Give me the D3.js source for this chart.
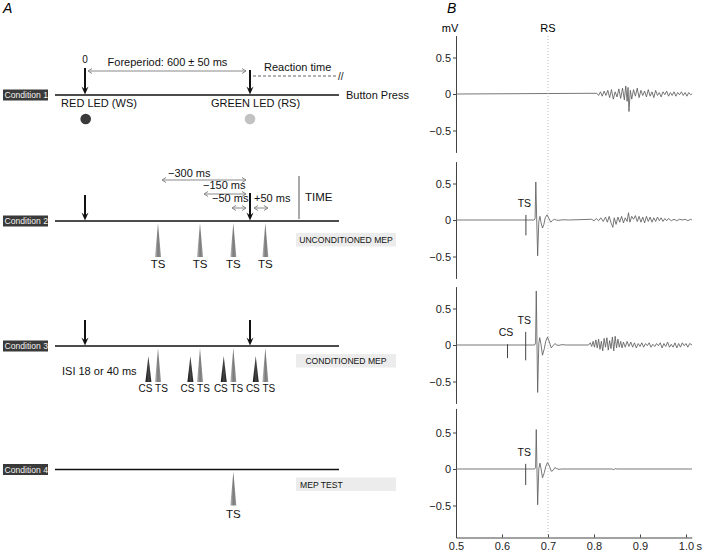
<!DOCTYPE html>
<html>
<head>
<meta charset="utf-8">
<script src="https://cdn.jsdelivr.net/npm/d3@7"></script>
<style>
body { margin: 0; background: #fff; }
svg { font-family: "Liberation Sans", Arial, sans-serif; }
</style>
</head>
<body>
<svg id="fig" width="703" height="553"></svg>
<script>
// ---- panel A : protocol (times in ms from the warning signal) ----
var conditions = ["Condition 1", "Condition 2", "Condition 3", "Condition 4"];
var mepLabels = [null, "UNCONDITIONED MEP", "CONDITIONED MEP", "MEP TEST"];
var wsTime = 0, rsTime = 600;
var tsTimes = [300, 450, 550, 650];              // RS -300, -150, -50, +50
var tsOffsets = [-300, -150, -50, 50];
var offsetLabels = ["\u2212300 ms", "\u2212150 ms", "\u221250 ms", "+50 ms"];
var isi = 40;                                    // CS precedes TS (18 or 40 ms)
var testTime = 550;

// ---- panel B : EMG traces (s, mV) ----
var secTicks = [0.5, 0.6, 0.7, 0.8, 0.9, 1.0];
var mvTicks = [-0.5, 0, 0.5];
var rsSec = 0.7;

var trace1 = [[0.5,0],[0.806,0.01],[0.810,-0.02],[0.814,0.03],[0.818,-0.03],[0.822,0.04],[0.826,-0.02],
  [0.830,0.05],[0.834,-0.05],[0.838,0.06],[0.842,-0.07],[0.846,0.03],[0.850,-0.04],[0.854,0.07],[0.858,-0.06],
  [0.862,0.08],[0.866,-0.08],[0.869,0.11],[0.872,-0.1],[0.874,0.09],[0.876,-0.24],[0.879,0.05],[0.882,-0.07],
  [0.886,0.06],[0.890,-0.03],[0.894,0.08],[0.898,-0.05],[0.902,0.05],[0.906,-0.02],[0.910,0.04],[0.914,-0.04],
  [0.918,0.06],[0.922,-0.03],[0.926,0.03],[0.930,-0.05],[0.934,0.05],[0.938,-0.02],[0.942,0.02],[0.946,-0.04],
  [0.950,0.03],[0.954,-0.01],[0.958,0.04],[0.962,-0.03],[0.966,0.02],[0.970,-0.02],[0.974,0.03],[0.978,-0.03],
  [0.982,0.02],[0.986,-0.01],[0.990,0.03],[0.994,-0.02],[0.998,0.02],[1.002,-0.03],[1.006,0.02],[1.010,-0.01],[1.013,0]];

var trace2 = [[0.5,0],[0.670,0],[0.672,0.02],[0.6735,0.52],[0.6755,0.0],[0.6775,-0.49],[0.680,-0.02],[0.6825,0.05],
  [0.685,-0.04],[0.688,-0.11],[0.691,-0.06],[0.694,0.03],[0.698,0.07],[0.702,0.02],[0.706,-0.03],[0.710,-0.005],
  [0.714,0.01],[0.718,0],[0.722,-0.005],[0.728,0],[0.735,0.003],[0.745,0],[0.795,0.01],[0.800,-0.01],[0.805,0.02],
  [0.810,-0.01],[0.815,0.03],[0.820,-0.02],[0.825,0.04],[0.829,-0.03],[0.833,0.05],[0.837,-0.04],[0.841,-0.1],
  [0.844,0.03],[0.848,-0.06],[0.852,0.04],[0.856,-0.03],[0.860,0.05],[0.864,-0.04],[0.868,0.03],[0.872,-0.02],
  [0.875,0.1],[0.878,-0.03],[0.882,0.05],[0.886,0.01],[0.890,0.06],[0.894,-0.02],[0.898,0.05],[0.902,-0.03],
  [0.906,0.04],[0.910,-0.04],[0.914,0.05],[0.918,-0.02],[0.922,0.04],[0.926,-0.03],[0.930,0.03],[0.934,-0.02],
  [0.938,0.04],[0.942,-0.01],[0.946,0.03],[0.950,-0.02],[0.954,0.02],[0.958,-0.01],[0.962,0.02],[0.968,-0.01],
  [0.974,0.01],[0.980,-0.01],[0.986,0.01],[0.992,0],[0.998,0.01],[1.004,-0.01],[1.010,0.01],[1.013,0]];

var trace3 = [[0.5,0],[0.671,0],[0.673,0.03],[0.6745,0.74],[0.676,0.05],[0.6775,-0.65],[0.680,0.02],[0.682,0.1],
  [0.685,0],[0.688,-0.14],[0.692,-0.05],[0.695,0.05],[0.699,0.11],[0.703,0.04],[0.707,-0.04],[0.711,-0.01],
  [0.715,0.02],[0.719,0],[0.724,-0.005],[0.730,0.005],[0.740,0],[0.788,0],[0.792,0.03],[0.795,-0.02],[0.798,0.05],
  [0.801,-0.03],[0.804,0.07],[0.807,-0.04],[0.810,0.08],[0.813,-0.06],[0.816,0.05],[0.819,-0.08],[0.822,0.09],
  [0.825,-0.03],[0.828,0.1],[0.831,-0.07],[0.834,0.06],[0.837,-0.05],[0.840,0.11],[0.843,-0.08],[0.846,0.12],
  [0.849,-0.04],[0.852,0.08],[0.855,-0.03],[0.858,0.05],[0.861,-0.04],[0.864,0.04],[0.868,-0.03],[0.872,0.05],
  [0.876,-0.02],[0.880,0.04],[0.884,-0.03],[0.888,0.03],[0.892,-0.04],[0.896,0.02],[0.900,-0.02],[0.904,0.03],
  [0.908,-0.03],[0.912,0.02],[0.916,-0.01],[0.920,0.03],[0.924,-0.03],[0.928,0.01],[0.932,-0.02],[0.936,0.02],
  [0.940,-0.01],[0.944,0.03],[0.948,-0.04],[0.952,0.02],[0.956,-0.02],[0.960,0.04],[0.964,-0.03],[0.968,0.01],
  [0.972,-0.03],[0.976,0.03],[0.980,-0.04],[0.984,0.02],[0.988,-0.03],[0.992,0.03],[0.996,-0.01],[1.000,0.02],
  [1.004,-0.03],[1.008,0.02],[1.013,0]];

var trace4 = [[0.5,0],[0.671,0],[0.673,0.02],[0.6745,0.54],[0.676,0],[0.6775,-0.49],[0.680,0],[0.6825,0.08],
  [0.685,0],[0.688,-0.12],[0.692,-0.05],[0.695,0.03],[0.699,0.09],[0.703,0.04],[0.707,-0.03],[0.711,-0.02],
  [0.715,0.02],[0.719,0.005],[0.724,-0.005],[0.730,0],[0.840,0],[0.843,-0.01],[0.846,0.005],[0.850,0],[1.013,0]];

var traces = [trace1, trace2, trace3, trace4];
var stimMarks = [
  [],
  [{name: "TS", t: 0.652, top: 0.07, bottom: -0.21}],
  [{name: "CS", t: 0.612, top: 0.01, bottom: -0.18}, {name: "TS", t: 0.6515, top: 0.18, bottom: -0.21}],
  [{name: "TS", t: 0.6515, top: 0.07, bottom: -0.22}]
];
var panelExtents = [[-0.8, 0.8], [-0.8, 0.8], [-0.8, 0.8], [-0.94, 0.83]];

var svg = d3.select("#fig");
var defs = svg.append("defs");

function grad(id, stops) {
  var g = defs.append("linearGradient").attr("id", id).attr("x1", 0).attr("x2", 1).attr("y1", 0).attr("y2", 0);
  stops.forEach(function(c, i) {
    g.append("stop").attr("offset", i / (stops.length - 1)).attr("stop-color", c);
  });
}
grad("tsGrad", ["#bdbdbd", "#7a7a7a", "#9a9a9a"]);
grad("csGrad", ["#111", "#444", "#222"]);

// panel letters
svg.append("text").attr("x", 3).attr("y", 13).attr("font-size", 14).attr("font-style", "italic").text("A");
svg.append("text").attr("x", 447).attr("y", 13).attr("font-size", 14).attr("font-style", "italic").text("B");

// ================= panel A =================
// schematic time axis: not to scale before the first stimulus
var xA = d3.scaleLinear().domain([-125, 0, 300, 450, 600, 890]).range([55, 85, 158, 200, 250, 339]);
var yA = d3.scaleOrdinal().domain(conditions).range([95, 221, 346, 469.5]);
var gapLen = d3.scaleLinear().domain([0, 300]).range([0, 84]);
var isiLen = d3.scaleLinear().domain([0, 40]).range([0, 9.6]);

var gA = svg.append("g");

function downArrow(x, y0, y1) {
  gA.append("line").attr("x1", x).attr("x2", x).attr("y1", y0).attr("y2", y1 - 4)
    .attr("stroke", "#111").attr("stroke-width", 2);
  gA.append("path").attr("d", "M" + (x - 3.5) + "," + (y1 - 8) + "L" + x + "," + y1 + "L" + (x + 3.5) + "," + (y1 - 8) + "L" + x + "," + (y1 - 5) + "Z")
    .attr("fill", "#111");
}
function dblArrow(x0, x1, y) {
  gA.append("line").attr("x1", x0).attr("x2", x1).attr("y1", y).attr("y2", y)
    .attr("stroke", "#888").attr("stroke-width", 1);
  gA.append("path")
    .attr("d", "M" + (x0 + 4) + "," + (y - 2.5) + "L" + x0 + "," + y + "L" + (x0 + 4) + "," + (y + 2.5) +
               "M" + (x1 - 4) + "," + (y - 2.5) + "L" + x1 + "," + y + "L" + (x1 - 4) + "," + (y + 2.5))
    .attr("fill", "none").attr("stroke", "#888").attr("stroke-width", 1);
}
function triangle(x, yTip, yBase, fill) {
  gA.append("path").attr("d", "M" + x + "," + yTip + "L" + (x + 3) + "," + yBase + "L" + (x - 3) + "," + yBase + "Z")
    .attr("fill", fill);
}
function txt(x, y, s, size, anchor) {
  return gA.append("text").attr("x", x).attr("y", y).attr("font-size", size)
    .attr("text-anchor", anchor || "start").attr("fill", "#111").text(s);
}

conditions.forEach(function(c, i) {
  var y = yA(c);
  gA.append("rect").attr("x", 3).attr("y", y - 5.5).attr("width", 45).attr("height", 11).attr("fill", "#3a3a3a");
  gA.append("text").attr("x", 4.5).attr("y", y + 3).attr("font-size", 8.6).attr("fill", "#f2f2f2").text(c);
  gA.append("line").attr("x1", xA(-125)).attr("x2", xA(890)).attr("y1", y).attr("y2", y)
    .attr("stroke", "#111").attr("stroke-width", 1.6);
  if (mepLabels[i]) {
    var top = y + (i === 1 ? 12 : 8);
    gA.append("rect").attr("x", 296).attr("y", top).attr("width", 100).attr("height", 13.5).attr("fill", "#ececec");
    if (i === 3) txt(300, top + 10, mepLabels[i], 8.6);
    else txt(346, top + 10, mepLabels[i], 8.6, "middle");
  }
});

// condition 1
(function() {
  var y = yA(conditions[0]);
  downArrow(xA(wsTime), y - 27, y - 0.5);
  downArrow(xA(rsTime), y - 25, y - 0.5);
  txt(xA(wsTime), y - 32, "0", 10, "middle");
  dblArrow(xA(wsTime) + 3, xA(rsTime) - 4, y - 24);
  txt((xA(wsTime) + xA(rsTime)) / 2, y - 29, "Foreperiod: 600 \u00b1 50 ms", 11, "middle");
  txt(xA(rsTime) + 14, y - 24, "Reaction time", 11);
  gA.append("line").attr("x1", xA(rsTime) + 3).attr("x2", 337).attr("y1", y - 19).attr("y2", y - 19)
    .attr("stroke", "#666").attr("stroke-width", 1).attr("stroke-dasharray", "3,2");
  txt(338, y - 15, "//", 10);
  txt(346, y + 4, "Button Press", 11);
  txt(xA(wsTime) + 14, y + 12, "RED LED (WS)", 11, "middle");
  txt(xA(rsTime) + 5.5, y + 12, "GREEN LED (RS)", 11, "middle");
  gA.append("circle").attr("cx", xA(wsTime) + 0.7).attr("cy", y + 24).attr("r", 5.3).attr("fill", "#3a3a3a");
  gA.append("circle").attr("cx", xA(rsTime)).attr("cy", y + 24).attr("r", 5.3).attr("fill", "#c2c2c2");
})();

// condition 2
(function() {
  var y = yA(conditions[1]);
  downArrow(xA(wsTime), y - 26, y - 0.5);
  downArrow(xA(rsTime), y - 28, y - 0.5);
  var rowY = [y - 41, y - 27, y - 13, y - 13];
  var textDy = [-3, -5, -6, -6];
  var textDx = [6, -1, -20, 0];
  tsOffsets.forEach(function(o, k) {
    var x0, x1;
    if (o < 0) { x1 = xA(rsTime) - 4; x0 = x1 - gapLen(-o); }
    else { x0 = xA(rsTime) + 4; x1 = x0 + gapLen(o); }
    dblArrow(x0, x1, rowY[k]);
    txt(x0 + textDx[k], rowY[k] + textDy[k], offsetLabels[k], 11);
  });
  gA.append("line").attr("x1", 299).attr("x2", 299).attr("y1", y - 45).attr("y2", y - 2)
    .attr("stroke", "#555").attr("stroke-width", 1);
  txt(305, y - 20, "TIME", 11.5);
  tsTimes.forEach(function(t) {
    triangle(xA(t), y + 2, y + 36, "url(#tsGrad)");
    txt(xA(t), y + 47, "TS", 11.5, "middle");
  });
})();

// condition 3
(function() {
  var y = yA(conditions[2]);
  downArrow(xA(wsTime), y - 26, y - 0.5);
  downArrow(xA(rsTime), y - 26, y - 0.5);
  tsTimes.forEach(function(t) {
    var xt = xA(t), xc = xt - isiLen(isi);
    triangle(xc, y + 10, y + 36, "url(#csGrad)");
    triangle(xt, y + 2, y + 36, "url(#tsGrad)");
    txt((xc + xt) / 2, y + 46, "CS TS", 10, "middle");
  });
  txt(62, y + 29, "ISI 18 or 40 ms", 11);
})();

// condition 4
(function() {
  var y = yA(conditions[3]);
  triangle(xA(testTime), y + 2, y + 36, "url(#tsGrad)");
  txt(xA(testTime), y + 48, "TS", 11.5, "middle");
})();

// ================= panel B =================
var xB = d3.scaleLinear().domain([0.5, 1.0125]).range([456, 691.75]);
var zeroY = [94, 220, 345, 469];
var pxPerMv = 73;
var gB = svg.append("g");

traces.forEach(function(tr, i) {
  var ext = panelExtents[i];
  var y = d3.scaleLinear().domain(ext).range([zeroY[i] - ext[0] * pxPerMv, zeroY[i] - ext[1] * pxPerMv]);
  var ax = gB.append("g").attr("transform", "translate(" + xB(0.5) + ",0)")
    .call(d3.axisLeft(y).tickValues(mvTicks).tickSize(3).tickSizeOuter(0).tickPadding(2)
      .tickFormat(function(d) { return d === 0 ? "0" : d3.format(".1f")(d); }));
  ax.selectAll("path, line").attr("stroke", "#444");
  ax.selectAll("text").attr("font-size", 11).attr("fill", "#222").attr("font-family", null);

  gB.append("path").datum(tr)
    .attr("d", d3.line().x(function(d) { return xB(d[0]); }).y(function(d) { return y(d[1]); }))
    .attr("fill", "none").attr("stroke", "#5f5f5f").attr("stroke-width", 0.85);

  stimMarks[i].forEach(function(m) {
    gB.append("line").attr("x1", xB(m.t)).attr("x2", xB(m.t)).attr("y1", y(m.top)).attr("y2", y(m.bottom))
      .attr("stroke", "#444").attr("stroke-width", 1);
    gB.append("text").attr("x", xB(m.t) - 1.5).attr("y", y(m.top) - 8).attr("font-size", 10.5)
      .attr("text-anchor", "middle").attr("fill", "#111").text(m.name);
  });
});

// RS marker
gB.append("line").attr("x1", xB(rsSec)).attr("x2", xB(rsSec)).attr("y1", 36).attr("y2", 537)
  .attr("stroke", "#aaa").attr("stroke-width", 0.8).attr("stroke-dasharray", "1,2");
gB.append("text").attr("x", xB(rsSec)).attr("y", 32).attr("font-size", 11).attr("text-anchor", "middle").text("RS");
gB.append("text").attr("x", 450).attr("y", 32).attr("font-size", 11).attr("text-anchor", "middle").text("mV");

// time axis
var xAxis = gB.append("g").attr("transform", "translate(0,537.5)")
  .call(d3.axisBottom(xB).tickValues(secTicks).tickSize(-3).tickSizeOuter(0).tickPadding(5)
    .tickFormat(d3.format(".1f")));
xAxis.selectAll("path, line").attr("stroke", "#444");
xAxis.selectAll("text").attr("font-size", 11).attr("fill", "#222").attr("font-family", null);
gB.append("text").attr("x", 696.5).attr("y", 550).attr("font-size", 11).attr("fill", "#222").text("s");
</script>
</body>
</html>
